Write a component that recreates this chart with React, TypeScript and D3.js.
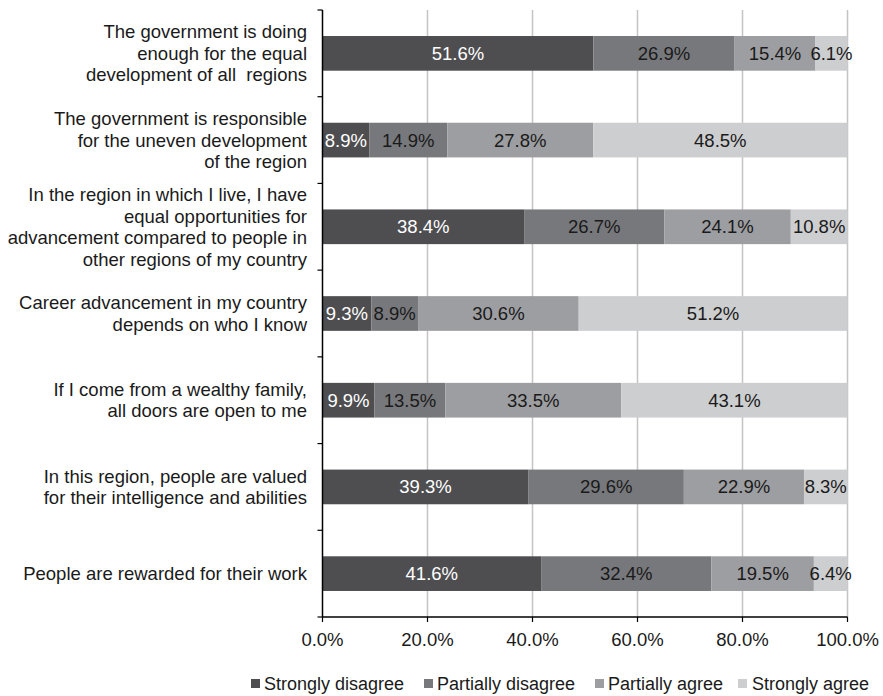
import React from "react";
import * as d3 from "d3";

const categories: string[][] = [
  ["The government is doing", "enough for the equal", "development of all  regions"],
  ["The government is responsible", "for the uneven development", "of the region"],
  ["In the region in which I live, I have", "equal opportunities for", "advancement compared to people in", "other regions of my country"],
  ["Career advancement in my country", "depends on who I know"],
  ["If I come from a wealthy family,", "all doors are open to me"],
  ["In this region, people are valued", "for their intelligence and abilities"],
  ["People are rewarded for their work"],
];

const seriesNames = ["Strongly disagree", "Partially disagree", "Partially agree", "Strongly agree"];
const stronglyDisagree = [51.6, 8.9, 38.4, 9.3, 9.9, 39.3, 41.6];
const partiallyDisagree = [26.9, 14.9, 26.7, 8.9, 13.5, 29.6, 32.4];
const partiallyAgree = [15.4, 27.8, 24.1, 30.6, 33.5, 22.9, 19.5];
const stronglyAgree = [6.1, 48.5, 10.8, 51.2, 43.1, 8.3, 6.4];
const xTicks = [0, 20, 40, 60, 80, 100];

const colors = ["#4e4e50", "#77787b", "#9d9ea1", "#cdced0"];
const labelColors = ["#ffffff", "#1a1a1a", "#1a1a1a", "#1a1a1a"];
const FONT = "'Liberation Sans', Arial, Helvetica, sans-serif";
const FS = 18.5;

export default function App() {
  const W = 883, H = 696;
  const left = 322.5, right = 847.5, top = 10, bottom = 617;
  const series = [stronglyDisagree, partiallyDisagree, partiallyAgree, stronglyAgree];
  const idx = categories.map((_, i) => String(i));
  const x = d3.scaleLinear().domain([0, 100]).range([left, right]);
  const y = d3.scaleBand<string>().domain(idx).range([top, bottom]).paddingInner(0.6).paddingOuter(0.3);
  const step = y.step();
  const rows = categories.map((_, i) => {
    const vals = series.map((s) => s[i]);
    const total = d3.sum(vals);
    let acc = 0;
    return vals.map((v, k) => {
      const x0 = (acc / total) * 100;
      acc += v;
      const x1 = (acc / total) * 100;
      return { k, v, x0, x1 };
    });
  });
  const lineH = 21.5;
  const legendItems = [
    { x: 251, tx: 264 },
    { x: 424, tx: 437 },
    { x: 595, tx: 608 },
    { x: 738, tx: 752 },
  ];
  return (
    <svg width={W} height={H} style={{ position: "absolute", left: 0, top: 0, display: "block", background: "#fff" }} fontFamily={FONT}>
      {xTicks.slice(1).map((t) => (
        <line key={"g" + t} x1={x(t)} x2={x(t)} y1={top} y2={bottom} stroke="#c4c4c4" strokeWidth={1.5} />
      ))}
      {rows.map((segs, i) =>
        segs.map((s) => (
          <rect key={`b${i}-${s.k}`} x={x(s.x0)} y={y(String(i))!} width={x(s.x1) - x(s.x0)} height={y.bandwidth()} fill={colors[s.k]} />
        ))
      )}
      {rows.map((segs, i) =>
        segs.map((s) => (
          <text key={`l${i}-${s.k}`} x={(x(s.x0) + x(s.x1)) / 2} y={y(String(i))! + y.bandwidth() / 2} dy="0.35em" textAnchor="middle" fontSize={FS} fill={labelColors[s.k]}>
            {s.v.toFixed(1) + "%"}
          </text>
        ))
      )}
      <line x1={left} x2={left} y1={top} y2={bottom} stroke="#000" strokeWidth={1.5} />
      <line x1={left} x2={right} y1={bottom} y2={bottom} stroke="#000" strokeWidth={1.5} />
      {d3.range(categories.length + 1).map((j) => (
        <line key={"yt" + j} x1={left - 5} x2={left} y1={top + j * step} y2={top + j * step} stroke="#000" strokeWidth={1.2} />
      ))}
      {xTicks.map((t) => (
        <g key={"xt" + t}>
          <line x1={x(t)} x2={x(t)} y1={bottom} y2={bottom + 5} stroke="#000" strokeWidth={1.2} />
          <text x={x(t)} y={bottom + 29} textAnchor="middle" fontSize={FS} fill="#1a1a1a">
            {t.toFixed(1) + "%"}
          </text>
        </g>
      ))}
      {categories.map((lines, i) => {
        const cy = y(String(i))! + y.bandwidth() / 2;
        const start = cy - ((lines.length - 1) * lineH) / 2;
        return (
          <text key={"c" + i} textAnchor="end" fontSize={FS} fill="#1a1a1a" style={{ whiteSpace: "pre" }}>
            {lines.map((ln, j) => (
              <tspan key={j} x={307} y={start + j * lineH} dy="0.35em">
                {ln}
              </tspan>
            ))}
          </text>
        );
      })}
      {seriesNames.map((n, k) => (
        <g key={"lg" + k}>
          <rect x={legendItems[k].x} y={679} width={9} height={9} fill={colors[k]} />
          <text x={legendItems[k].tx} y={683.5} dy="0.35em" fontSize={18} fill="#1a1a1a">
            {n}
          </text>
        </g>
      ))}
    </svg>
  );
}
